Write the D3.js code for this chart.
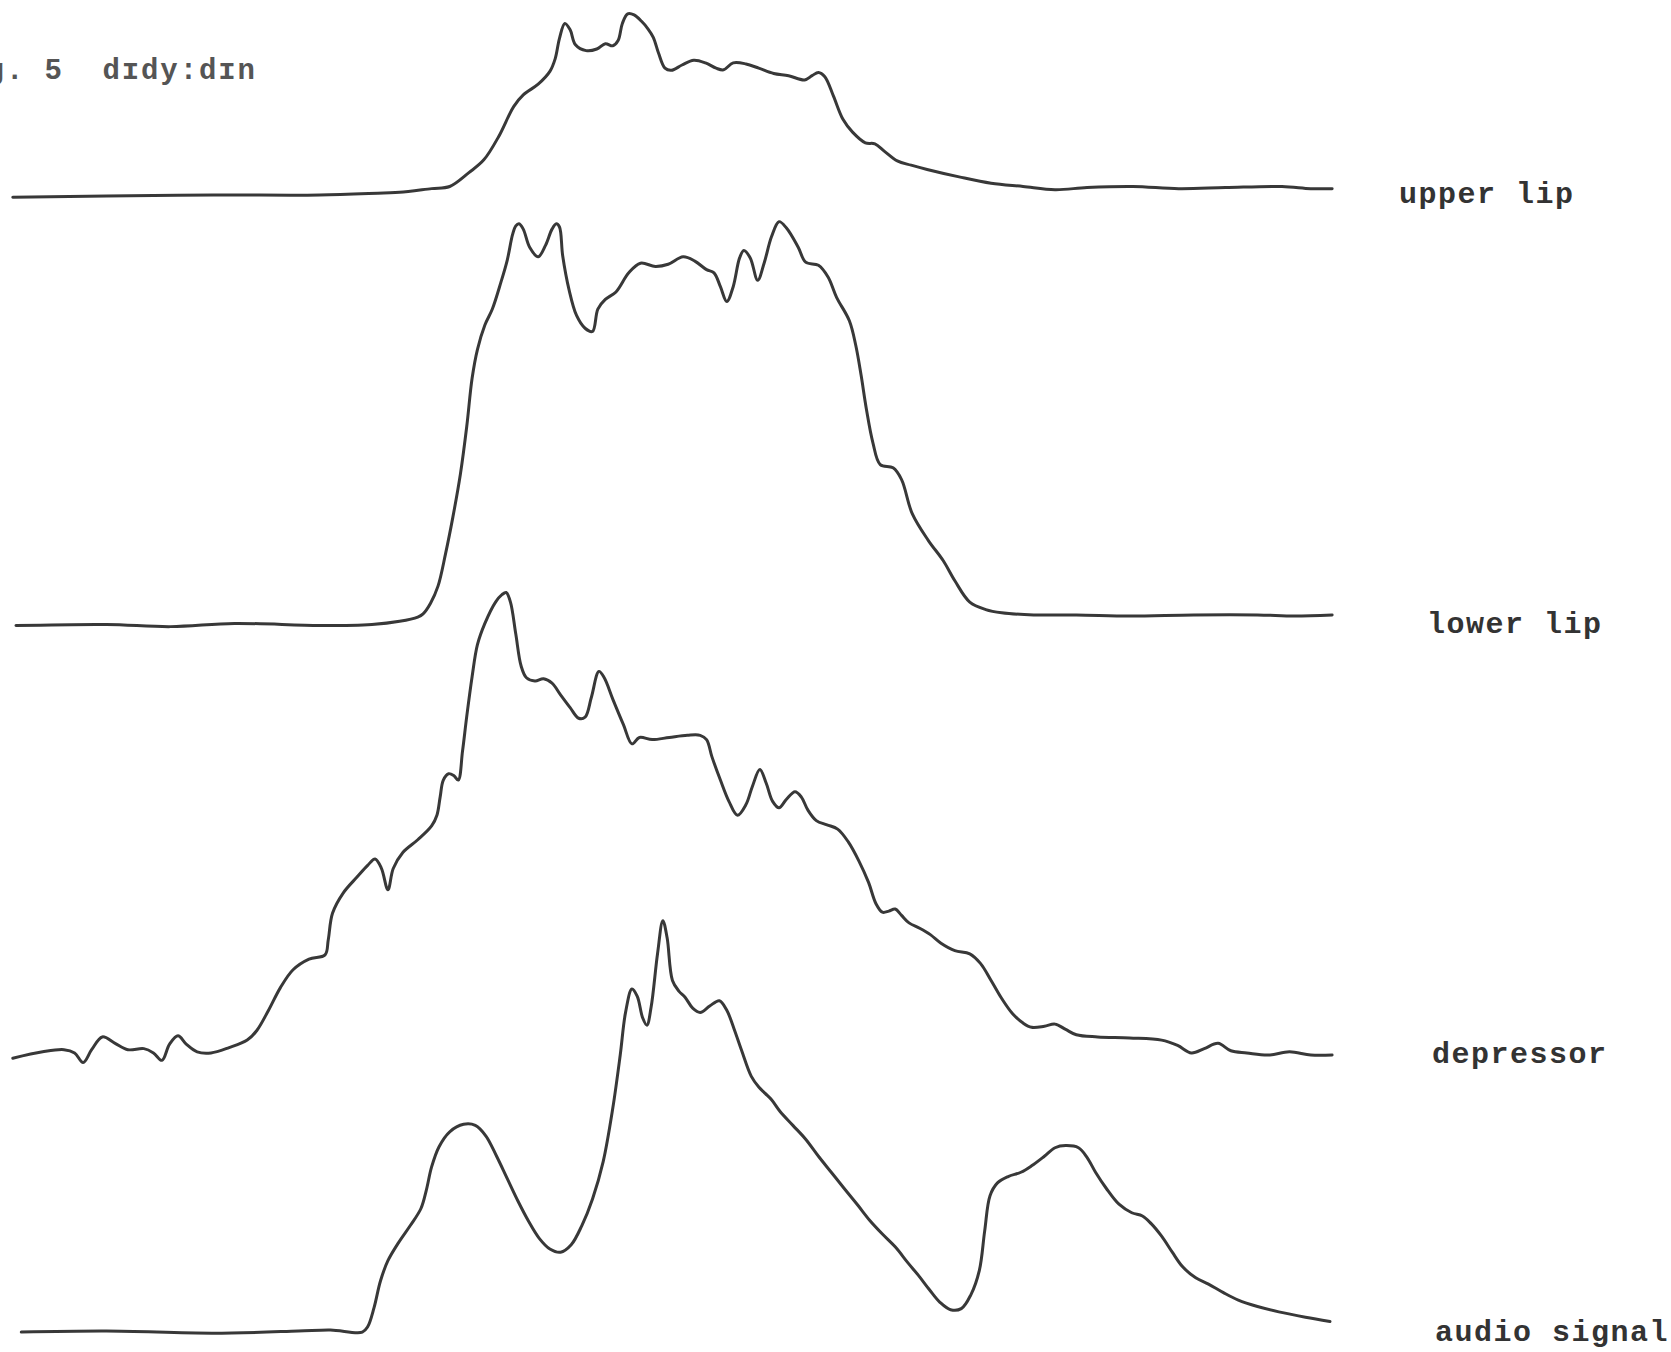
<!DOCTYPE html>
<html>
<head>
<meta charset="utf-8">
<script src="https://cdn.jsdelivr.net/npm/d3@7"></script>
<style>
  html, body { margin: 0; padding: 0; background: #ffffff; }
  svg { display: block; }
  .trace { fill: none; stroke: #383838; stroke-width: 3; stroke-linejoin: round; stroke-linecap: round; }
  .label { font-family: "Liberation Mono", "DejaVu Sans Mono", monospace; font-weight: bold; fill: #333333; }
  .title { font-family: "Liberation Mono", "DejaVu Sans Mono", monospace; font-weight: bold; fill: #555555; white-space: pre; }
</style>
</head>
<body>
<svg id="chart" width="1671" height="1352"></svg>
<script>
// Figure caption and channel names
const figureTitle = "Fig. 5  d\u026Ady:d\u026An";
const channelNames = ["upper lip", "lower lip", "depressor", "audio signal"];

// Each trace: [time, amplitude] pairs (arbitrary units, time on a common axis)
const upperLip = [
  [12,0],[100,1],[200,2],[300,2],[360,4],[375,4.5],[405,8],[422,10],[440,23],[454,35],
  [468,57],[482,85],[491,96],[505,106],[516,118],[521,130],[525,149],[530,163],[535,157],
  [540,143],[550,137.5],[560,139],[568,144],[575,142],[580,147],[584,163],[589,172],
  [595,171],[602,165],[608,158],[613,150],[618,135],[624,121],[630,119],[640,124],
  [651,128.5],[662,126],[672,121],[679,119.5],[688,126],[700,125],[712,121],[726,116],
  [740,114],[755,110],[762,114],[768,117],[774,113],[782,95],[791,73],[800,61],[812,51],
  [821,50],[830,43],[842,34],[855,30],[870,26],[900,19],[930,13],[960,10],[990,7],
  [1020,9],[1063,10],[1106,8],[1150,9],[1203,10],[1230,8],[1250,8]
];

const lowerLip = [
  [15,0],[100,1],[160,-1],[220,2],[300,0],[349,1],[375,4],[392,8],[397,11],[404,21],
  [411,37],[418,67],[425,102],[432,142],[438,187],[443,232],[448,259],[455,282],[462,297],
  [470,322],[476,343],[481,367],[484,375],[487,377],[491,372],[497,355],[505,346],[512,357],
  [518,372],[522,377],[525,374],[528,347],[534,315],[541,291],[549,279],[556,276],[561,297],
  [568,306],[578,313],[590,331],[601,340],[615,337],[627,339],[641,346],[652,342],[663,334],
  [670,331],[676,318],[682,304],[688,318],[694,345],[698,352],[704,345],[711,324],[717,340],
  [724,365],[731,379],[738,373],[749,355],[756,341],[768,338],[777,327],[785,308],[797,286],
  [803,263],[808,235],[813,203],[819,172],[826,151],[838,148],[846,137],[856,105],[871,80],
  [885,61],[896,42],[910,22],[925,15],[940,12],[970,10],[1010,10],[1060,9],[1120,10],
  [1180,10],[1215,9],[1250,10]
];

const depressor = [
  [12,2],[40,8],[60,10],[70,7],[78,-2],[86,10],[96,22],[108,16],[120,10],[135,11],[144,7],
  [152,0],[159,15],[167,23],[175,15],[185,8],[198,7],[215,12],[232,19],[241,28],[252,47],
  [263,68],[275,85],[290,95],[305,99],[308,113],[312,138],[322,157],[335,172],[345,183],
  [352,189],[358,180],[364,160],[369,180],[378,195],[392,207],[405,220],[410,230],[413,247],
  [416,263],[421,269],[426,267],[430,263],[434,290],[438,323],[443,360],[448,390],[455,410],
  [465,430],[471,437],[475,439],[479,430],[484,400],[489,370],[494,359],[502,356],[510,358],
  [518,354],[526,343],[535,331],[543,321],[549,322],[555,341],[562,365],[567,359],[575,339],
  [585,315],[593,297],[600,303],[612,301],[628,303],[645,305],[657,305],[663,301],[668,285],
  [676,263],[684,243],[692,230],[700,240],[706,257],[713,273],[719,260],[725,243],[731,237],
  [738,245],[746,252],[752,247],[758,235],[766,225],[776,221],[786,217],[796,205],[806,187],
  [815,167],[822,147],[828,139],[834,140],[840,142],[846,136],[853,129],[863,124],[873,118],
  [883,110],[896,103],[910,100],[920,91],[930,75],[940,58],[950,44],[960,35],[968,31],
  [980,32],[990,34],[1000,29],[1010,24],[1030,22],[1060,21],[1090,19],[1105,14],[1118,7],
  [1130,11],[1143,16],[1155,9],[1170,7],[1190,5],[1210,8],[1230,5],[1250,5]
];

const audioSignal = [
  [20,0],[100,1],[200,-1],[280,1],[310,2],[340,0],[345,5],[351,23],[357,48],[364,67],
  [374,84],[385,100],[395,116],[400,133],[405,155],[412,174],[422,188],[435,195],[446,194],
  [456,184],[466,165],[476,144],[486,123],[496,104],[506,88],[516,78],[526,75],[536,82],
  [546,100],[556,125],[566,160],[575,210],[582,260],[587,300],[593,322],[598,315],[603,295],
  [607,288],[611,305],[617,355],[622,386],[626,370],[631,330],[637,320],[643,314],[650,304],
  [657,300],[666,306],[675,311],[682,302],[689,284],[696,264],[705,240],[712,230],[718,224],
  [724,218],[732,207],[744,194],[756,181],[768,165],[780,150],[792,135],[805,119],[816,105],
  [828,92],[840,80],[852,65],[862,53],[872,40],[882,28],[892,21],[902,22],[911,35],[919,58],
  [924,95],[929,128],[936,140],[946,146],[958,150],[968,156],[980,165],[990,173],[1000,175],
  [1012,173],[1020,164],[1028,150],[1038,135],[1050,120],[1062,112],[1072,109],[1080,102],
  [1090,90],[1100,75],[1110,61],[1122,51],[1134,45],[1148,37],[1162,30],[1180,24],[1200,19],
  [1225,14],[1248,10]
];

const traces = [upperLip, lowerLip, depressor, audioSignal];

// ---- layout ----
const width = 1671, height = 1352;
const k = width / 1568;                   // amplitude units -> px
const restLevels = [185, 587, 995, 1250]; // resting line of each channel
const labelX = [1399, 1427, 1432, 1435];
const labelY = [203, 633, 1063, 1341];

const svg = d3.select("#chart");
svg.append("rect").attr("width", width).attr("height", height).attr("fill", "#ffffff");

const x = d3.scaleLinear().domain([0, 1568]).range([0, width]);

const line = d3.line().curve(d3.curveCatmullRom.alpha(0.5));

traces.forEach((data, i) => {
  const r = restLevels[i];
  const y = d3.scaleLinear().domain([0, 100]).range([r * k, (r - 100) * k]);
  line.x(d => x(d[0])).y(d => y(d[1]));
  svg.append("path")
    .attr("class", "trace")
    .attr("d", line(data));
  svg.append("text")
    .attr("class", "label")
    .attr("x", labelX[i])
    .attr("y", labelY[i])
    .attr("font-size", 30)
    .attr("letter-spacing", 1.5)
    .text(channelNames[i]);
});

// caption runs off the left edge of the sheet
svg.append("text")
  .attr("class", "title")
  .attr("xml:space", "preserve")
  .attr("x", -52)
  .attr("y", 79)
  .attr("font-size", 29)
  .attr("letter-spacing", 1.9)
  .text(figureTitle);
</script>
</body>
</html>
